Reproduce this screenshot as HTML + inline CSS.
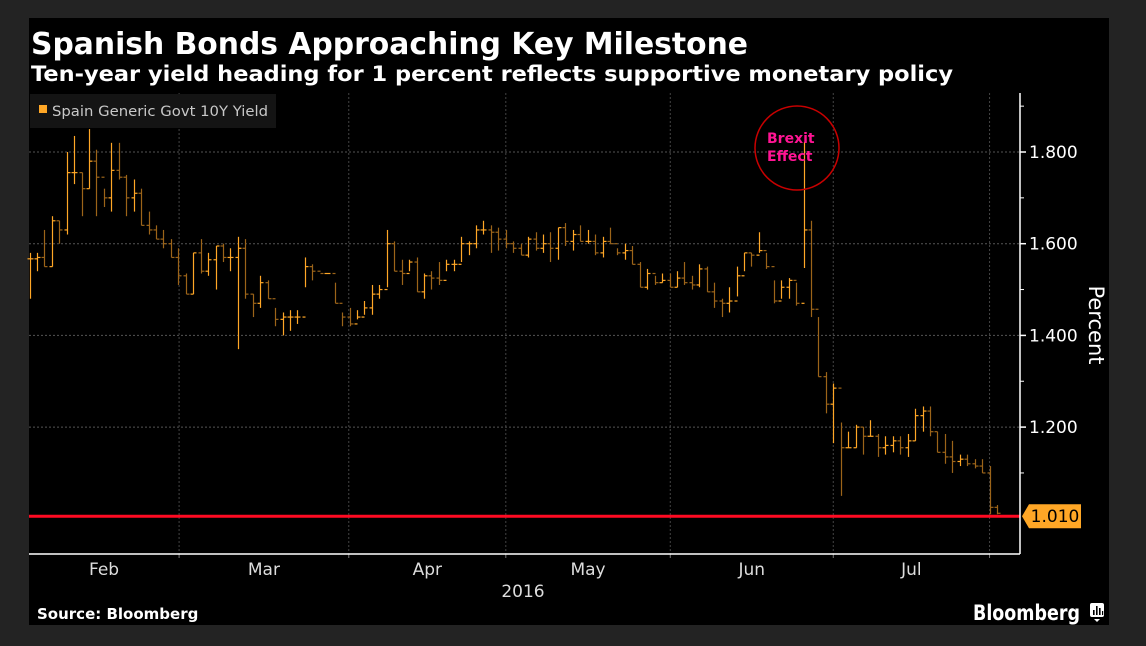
<!DOCTYPE html>
<html><head><meta charset="utf-8">
<style>
html,body{margin:0;padding:0;background:#232323;}
svg{display:block;}
text{font-family:"DejaVu Sans","Liberation Sans",sans-serif;}
</style></head>
<body>
<svg id="chart" width="1146" height="646" viewBox="0 0 1146 646">
  <rect x="0" y="0" width="1146" height="646" fill="#232323"/>
  <rect x="29" y="18" width="1080" height="607" fill="#000"/>
  <text x="31" y="54" fill="#fff" font-size="30" font-weight="bold" textLength="717" lengthAdjust="spacingAndGlyphs">Spanish Bonds Approaching Key Milestone</text>
  <text x="31" y="81" fill="#fff" font-size="21" font-weight="bold" textLength="922" lengthAdjust="spacingAndGlyphs">Ten-year yield heading for 1 percent reflects supportive monetary policy</text>
  <g id="grid"></g>
  <g id="marks"></g>
  <g id="axes"></g>
  <g>
    <rect x="30" y="94" width="246" height="34" fill="#141414"/>
    <rect x="39" y="105" width="8" height="8" fill="#ffa726"/>
    <text x="52" y="116" fill="#c8c8c8" font-size="14" font-family="Liberation Sans" textLength="216" lengthAdjust="spacingAndGlyphs">Spain Generic Govt 10Y Yield</text>
  </g>
  <g>
    <circle cx="797" cy="148" r="42" fill="none" stroke="#c80000" stroke-width="1.5"/>
    <text x="767" y="143" fill="#ff1493" font-size="14" font-weight="bold">Brexit</text>
    <text x="767" y="161" fill="#ff1493" font-size="14" font-weight="bold">Effect</text>
  </g>
  <text x="37" y="619" fill="#fff" font-size="15" font-weight="bold">Source: Bloomberg</text>
  <text x="973" y="620" fill="#fff" font-size="21" font-weight="bold" font-family="Liberation Sans" textLength="107" lengthAdjust="spacingAndGlyphs">Bloomberg</text>
  <g>
    <rect x="1090" y="603" width="14" height="14" rx="2" fill="#fff"/>
    <path d="M1094 619 l3 3 l3 -3z" fill="#fff"/>
    <rect x="1093" y="610" width="1.6" height="5" fill="#000"/>
    <rect x="1096" y="606" width="1.6" height="9" fill="#000"/>
    <rect x="1099" y="608" width="1.6" height="7" fill="#000"/>
    <rect x="1102" y="611" width="1.2" height="4" fill="#000"/>
  </g>
</svg>
<script>
const yTicks=[1.2,1.4,1.6,1.8];
const yTickLabels=["1.200","1.400","1.600","1.800"];
const yMinorTicks=[1.1,1.3,1.5,1.7,1.9];
const months=["Feb","Mar","Apr","May","Jun","Jul"];
const monthStarts=[-4,20.6,43.4,64.5,86.6,108.5,129.5];
const lastValue=1.01;
const highs=[1.58,1.58,1.63,1.66,1.65,1.80,1.835,1.755,1.85,1.805,1.72,1.82,1.82,1.75,1.74,1.72,1.67,1.64,1.63,1.61,1.59,1.535,1.58,1.61,1.58,1.595,1.60,1.59,1.615,1.61,1.49,1.53,1.52,1.46,
1.45,1.455,1.455,1.57,1.555,1.535,1.535,1.515,1.45,1.46,1.455,1.475,1.51,1.51,1.63,1.605,1.565,1.565,1.57,1.535,1.54,1.56,1.565,1.565,1.615,1.605,1.64,1.65,1.64,1.635,1.63,1.605,
1.60,1.615,1.625,1.62,1.625,1.635,1.645,1.63,1.64,1.63,1.62,1.615,1.635,1.59,1.60,1.595,1.56,1.545,1.53,1.535,1.535,1.54,1.56,1.53,1.555,1.55,1.515,1.48,1.505,1.55,1.58,1.58,1.625,
1.58,1.52,1.52,1.525,1.515,1.822,1.65,1.44,1.32,1.295,1.21,1.19,1.205,1.20,1.215,1.185,1.18,1.18,1.18,1.185,1.24,1.245,1.245,1.19,1.185,1.17,1.14,1.14,1.13,1.13,1.115,1.03];
const lows=[1.48,1.54,1.55,1.55,1.60,1.62,1.73,1.66,1.72,1.66,1.68,1.67,1.74,1.66,1.67,1.64,1.62,1.61,1.59,1.57,1.51,1.49,1.49,1.535,1.53,1.50,1.56,1.54,1.37,1.48,1.44,1.46,1.48,1.42,
1.40,1.41,1.425,1.505,1.52,1.535,1.535,1.47,1.42,1.42,1.435,1.445,1.445,1.48,1.505,1.54,1.51,1.54,1.495,1.48,1.50,1.51,1.54,1.54,1.56,1.575,1.59,1.62,1.58,1.585,1.59,1.58,
1.575,1.57,1.585,1.58,1.56,1.565,1.595,1.585,1.605,1.60,1.575,1.57,1.60,1.575,1.565,1.555,1.505,1.50,1.51,1.515,1.505,1.505,1.51,1.50,1.505,1.495,1.46,1.44,1.45,1.485,1.54,1.55,1.58,
1.545,1.47,1.48,1.48,1.465,1.547,1.44,1.31,1.23,1.165,1.05,1.155,1.155,1.14,1.18,1.135,1.14,1.145,1.14,1.135,1.17,1.19,1.18,1.145,1.12,1.10,1.115,1.115,1.11,1.10,1.01,1.01];
const closes=[1.567,1.57,1.55,1.65,1.63,1.755,1.755,1.72,1.78,1.745,1.70,1.76,1.745,1.70,1.71,1.64,1.63,1.61,1.60,1.57,1.53,1.49,1.58,1.54,1.565,1.595,1.57,1.57,1.59,1.49,1.47,1.515,1.48,1.435,
1.44,1.44,1.44,1.55,1.54,1.535,1.535,1.47,1.44,1.425,1.44,1.46,1.49,1.50,1.60,1.54,1.535,1.56,1.495,1.53,1.525,1.52,1.555,1.555,1.60,1.60,1.63,1.63,1.625,1.61,1.60,1.59,
1.575,1.61,1.59,1.60,1.59,1.635,1.605,1.62,1.605,1.605,1.58,1.605,1.60,1.58,1.585,1.555,1.505,1.535,1.515,1.52,1.505,1.525,1.515,1.51,1.545,1.495,1.475,1.47,1.475,1.53,1.58,1.575,1.585,
1.55,1.475,1.505,1.52,1.47,1.63,1.457,1.31,1.25,1.285,1.155,1.155,1.20,1.18,1.18,1.155,1.16,1.17,1.155,1.17,1.225,1.235,1.19,1.145,1.135,1.125,1.13,1.12,1.115,1.10,1.025,1.012];

const NS="http://www.w3.org/2000/svg";
const X0=29,X1=1020,Y0=93,Y1=554;
const n=closes.length;
function xScale(i){return 29.5+i*(997-29.5)/(n-1);}
function yScale(v){return 152+(1.8-v)*458.5;}
function mk(tag,attrs,parent){const e=document.createElementNS(NS,tag);for(const k in attrs)e.setAttribute(k,attrs[k]);parent.appendChild(e);return e;}
const grid=document.getElementById('grid'),marks=document.getElementById('marks'),axes=document.getElementById('axes');

yTicks.forEach((v,i)=>{
  const y=yScale(v);
  const gl=mk('line',{x1:X0,x2:X1,y1:y,y2:y,stroke:'#555','stroke-width':1,'stroke-dasharray':'2,2'},grid);
  
  
  const tk=mk('line',{x1:X1,x2:X1+6,y1:y,y2:y,stroke:'#fff','stroke-width':1.5},axes);
  
  
  const t=mk('text',{x:1029,y:y+6,fill:'#fff','font-size':17,'font-family':'Liberation Sans'},axes);
  t.textContent=yTickLabels[i];
  
  
});
yMinorTicks.forEach(v=>{
  const y=yScale(v);
  const tk=mk('line',{x1:X1,x2:X1+4,y1:y,y2:y,stroke:'#fff','stroke-width':1},axes);
  
  
});
function boundaryX(idx){return Math.max(X0,xScale(idx-0.5));}
for(let m=1;m<monthStarts.length;m++){
  const x=boundaryX(monthStarts[m]);
  const gl=mk('line',{x1:x,x2:x,y1:Y0,y2:Y1,stroke:'#444','stroke-width':1,'stroke-dasharray':'2,2'},grid);
  
  
  const tk=mk('line',{x1:x,x2:x,y1:Y1,y2:Y1+4,stroke:'#777','stroke-width':1},axes);
  
  
}
months.forEach((m,i)=>{
  const a=boundaryX(monthStarts[i]);
  const b=boundaryX(monthStarts[i+1]);
  const t=mk('text',{x:(a+b)/2,y:575,fill:'#ddd','font-size':17,'text-anchor':'middle','font-family':'Liberation Sans'},axes);
  t.textContent=m;
  
  
});
const yr=mk('text',{x:523,y:597,fill:'#ddd','font-size':17,'text-anchor':'middle','font-family':'Liberation Sans'},axes);
yr.textContent='2016';



for(let i=0;i<n;i++){
  const open=i===0?closes[0]:closes[i-1];
  const up=closes[i]>=open;
  const col=up?'#ffa726':'#9c6419';
  const x=Math.round(xScale(i))+0.5;
  const g=mk('g',{stroke:col,'stroke-width':1.2},marks);
  
  
  mk('line',{x1:x,x2:x,y1:yScale(highs[i]),y2:yScale(lows[i])},g);
  mk('line',{x1:x-3,x2:x,y1:yScale(open),y2:yScale(open)},g);
  mk('line',{x1:x,x2:x+3,y1:yScale(closes[i]),y2:yScale(closes[i])},g);
}
const yl=yScale(lastValue)+2;
const rl=mk('line',{x1:X0,x2:X1,y1:yl,y2:yl,stroke:'#ff0a22','stroke-width':3},marks);



const ax1=mk('line',{x1:X1,x2:X1,y1:Y0,y2:Y1,stroke:'#fff','stroke-width':1.5},axes);


const ax2=mk('line',{x1:X0,x2:X1,y1:Y1,y2:Y1,stroke:'#fff','stroke-width':1.5},axes);


const pt=mk('text',{x:0,y:0,fill:'#fff','font-size':21,'font-family':'Liberation Sans','text-anchor':'middle',transform:'translate(1089,325) rotate(90)'},axes);
pt.textContent='Percent';


const tag=mk('path',{d:`M${X1+2} ${yl} L${X1+9} ${yl-12} L${X1+61} ${yl-12} L${X1+61} ${yl+12} L${X1+9} ${yl+12} Z`,fill:'#ffa726'},axes);


const tt=mk('text',{x:X1+35,y:yl+6,fill:'#000','font-size':17,'text-anchor':'middle','font-family':'Liberation Sans'},axes);
tt.textContent=lastValue.toFixed(3);


</script>
</body></html>
